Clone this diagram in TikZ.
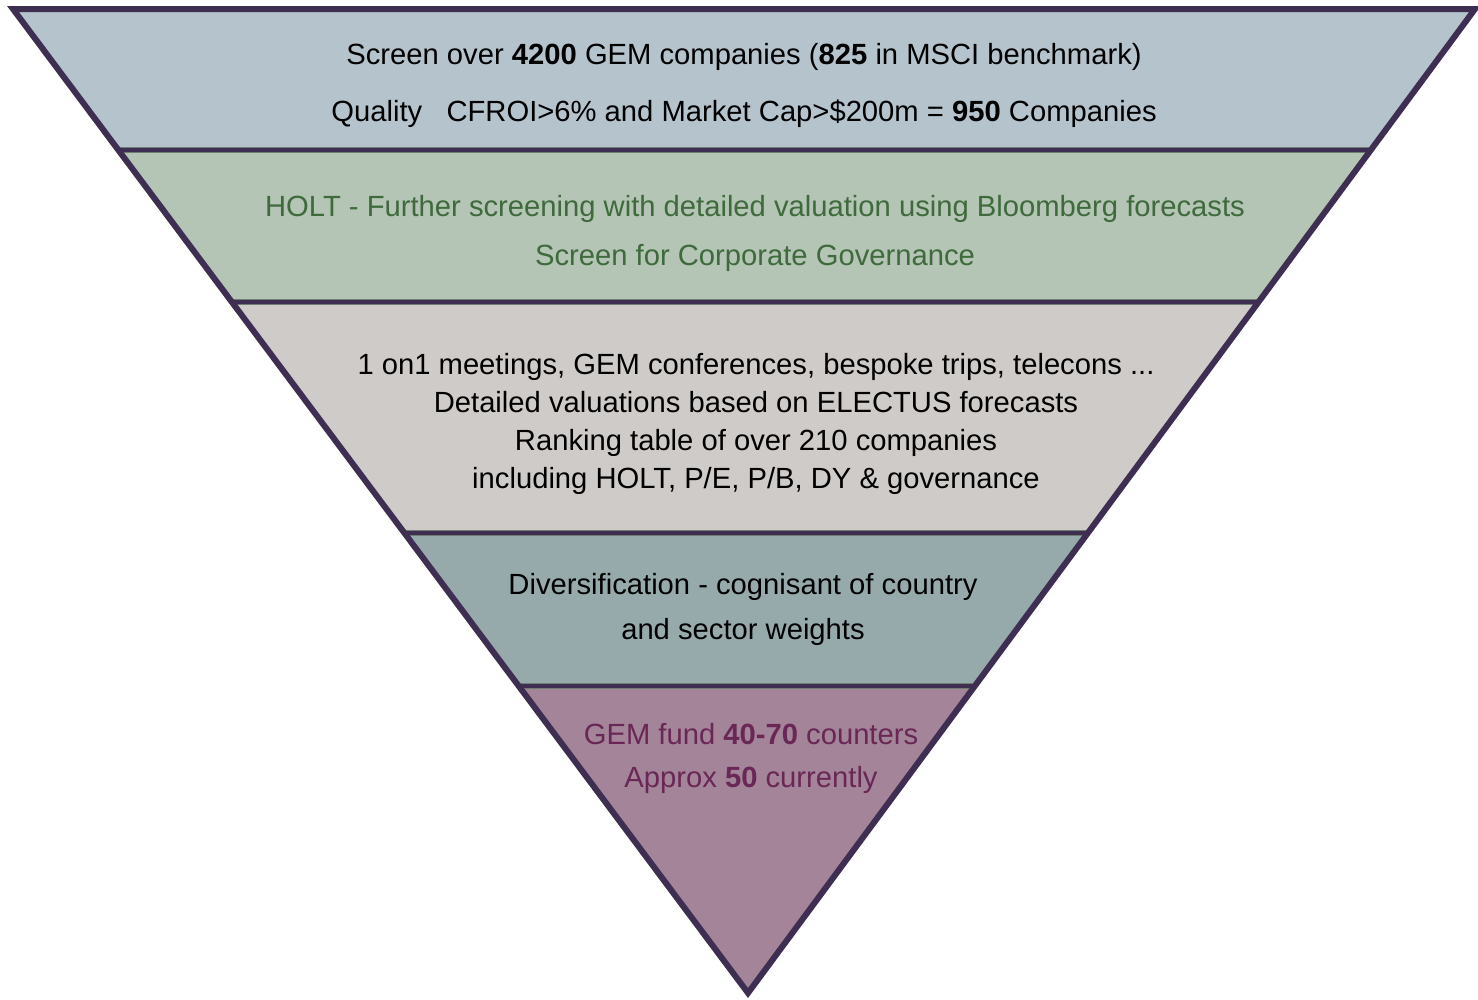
\documentclass[tikz,border=0pt]{standalone}
\usepackage{fontspec}
\setmainfont{Liberation Sans}
\usetikzlibrary{calc}
\definecolor{edgecol}{HTML}{3E2F52}
\definecolor{sepshade}{HTML}{6F7E70}
\definecolor{bandA}{HTML}{B5C3CD}
\definecolor{bandB}{HTML}{B4C4B5}
\definecolor{bandC}{HTML}{CFCBC8}
\definecolor{bandD}{HTML}{96AAAC}
\definecolor{bandE}{HTML}{A38499}
\definecolor{txtgreen}{HTML}{3E6A3C}
\definecolor{txtpurple}{HTML}{6A2756}
\begin{document}
\begin{tikzpicture}[x=1pt,y=-1pt,
  sepline/.style={draw=edgecol, line width=3.5pt},
  sepshadow/.style={draw=sepshade, line width=6.5pt},
  outline/.style={draw=edgecol, line width=6pt, line join=miter},
  lbl/.style={align=center, inner sep=0pt, text=black}]
\useasboundingbox (0,0) rectangle (1478,999);
\coordinate (TL) at (13,9);
\coordinate (TR) at (1475,9);
\coordinate (AP) at (748,993);
\foreach \n/\t in {1/0.1433,2/0.2978,3/0.5325,4/0.6880}{
  \coordinate (L\n) at ($(TL)!\t!(AP)$);
  \coordinate (R\n) at ($(TR)!\t!(AP)$);
}
\fill[bandA] (TL) -- (TR) -- (R1) -- (L1) -- cycle;
\fill[bandB] (L1) -- (R1) -- (R2) -- (L2) -- cycle;
\fill[bandC] (L2) -- (R2) -- (R3) -- (L3) -- cycle;
\fill[bandD] (L3) -- (R3) -- (R4) -- (L4) -- cycle;
\fill[bandE] (L4) -- (R4) -- (AP) -- cycle;
\foreach \n in {1,2,3,4}{
  \draw[sepshadow] (L\n) -- (R\n);
  \draw[sepline] (L\n) -- (R\n);
}
\draw[outline] (TL) -- (TR) -- (AP) -- cycle;

\node[lbl, font=\fontsize{29.2}{57}\selectfont] (t1) at (744,85)
  {Screen over \textbf{4200} GEM companies (\textbf{825} in MSCI benchmark)\\
   Quality\ \ \ CFROI>6\% and Market Cap>\$200m = \textbf{950} Companies};
\node[lbl, text=txtgreen, font=\fontsize{29.2}{49}\selectfont] (t2) at (755,233)
  {HOLT - Further screening with detailed valuation using Bloomberg forecasts\\
   Screen for Corporate Governance};
\node[lbl, font=\fontsize{29.2}{38}\selectfont] (t3) at (756,424)
  {1 on1 meetings, GEM conferences, bespoke trips, telecons ...\\
   Detailed valuations based on ELECTUS forecasts\\
   Ranking table of over 210 companies\\
   including HOLT, P/E, P/B, DY \& governance};
\node[lbl, font=\fontsize{29.2}{45}\selectfont] (t4) at (743,609)
  {Diversification - cognisant of country\\
   and sector weights};
\node[lbl, text=txtpurple, font=\fontsize{29.2}{43}\selectfont] (t5) at (751,758)
  {GEM fund \textbf{40-70} counters\\
   Approx \textbf{50} currently};
\end{tikzpicture}
\end{document}
